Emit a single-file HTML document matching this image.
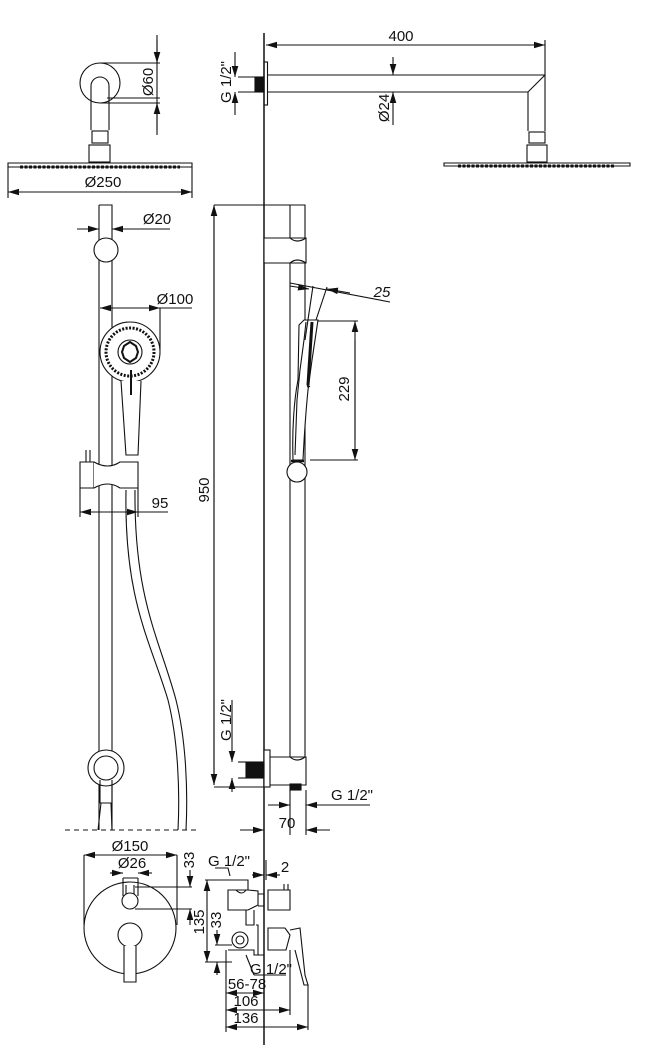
<!DOCTYPE html>
<html><head><meta charset="utf-8"><style>
html,body{margin:0;padding:0;background:#fff;}
svg{display:block;}
text{font-family:"Liberation Sans",sans-serif;font-size:15px;fill:#111;}
</style></head><body>
<svg width="650" height="1060" viewBox="0 0 650 1060" xmlns="http://www.w3.org/2000/svg">
<defs>
<marker id="a" viewBox="0 0 10 6" refX="10" refY="3" markerWidth="10" markerHeight="6" orient="auto-start-reverse"><path d="M0,0 L10,3 L0,6 z" fill="#111"/></marker>
</defs>
<g stroke="#111" fill="none" stroke-width="1.1">

<circle cx="100" cy="83" r="20"/>
<path d="M91,130 L91,86 A9,9 0 0 1 109,86 L109,130"/>
<path d="M107,98 L160,98 M100,63 L160,63 M100,103 L160,103"/>
<line x1="157" y1="35" x2="157" y2="135" />
<line x1="157" y1="40" x2="157" y2="63" marker-end="url(#a)"/>
<line x1="157" y1="130" x2="157" y2="103" marker-end="url(#a)"/>
<rect x="92" y="131" width="16" height="12"/>
<rect x="89" y="145" width="21" height="17"/>
<path d="M8,163 L192,163 L192,167 L8,167 z" fill="#fff"/>
<path d="M20,167 L180,167" stroke-width="3" stroke-dasharray="3,1.5"/>
<line x1="8" y1="167" x2="8" y2="198"/><line x1="192" y1="167" x2="192" y2="198"/>
<line x1="8" y1="192" x2="192" y2="192" marker-start="url(#a)" marker-end="url(#a)"/>

<path d="M99,205 L112,205 L112,830 M99,205 L99,830"/>
<circle cx="106" cy="250" r="12" fill="#fff"/>
<line x1="77" y1="229" x2="99" y2="229" marker-end="url(#a)"/>
<line x1="170" y1="229" x2="112" y2="229" marker-end="url(#a)"/>
<line x1="100" y1="308" x2="160" y2="308" marker-start="url(#a)" marker-end="url(#a)"/>
<line x1="160" y1="308" x2="192" y2="308"/>
<line x1="160" y1="308" x2="160" y2="350"/>
<circle cx="130" cy="352" r="30" fill="#fff"/>
<circle cx="130" cy="352" r="24" stroke-width="3" stroke-dasharray="2,1.5"/>
<circle cx="130" cy="352" r="12"/>
<path d="M124,346 L130,342 L136,346 L138,352 L136,358 L130,362 L124,358 L122,352 z" stroke-width="2"/>
<path d="M121,381 L126,455 L138,455 L141,381" fill="#fff"/>
<line x1="131" y1="370" x2="131" y2="395" stroke-width="2"/>
<path d="M80,462 L94,462 L94,488 L80,488 z"/>
<line x1="86" y1="450" x2="86" y2="462"/><line x1="90" y1="450" x2="90" y2="462"/>
<path d="M94,462 Q108,470 120,462 L138,462 L138,488 L120,488 Q108,480 94,488" fill="#fff"/>
<line x1="80" y1="488" x2="80" y2="517"/><line x1="138" y1="488" x2="138" y2="517"/>
<line x1="80" y1="512" x2="138" y2="512" marker-start="url(#a)" marker-end="url(#a)"/>
<line x1="138" y1="512" x2="168" y2="512"/>
<path d="M126,490 C124,600 150,640 168,700 C178,740 180,790 178,830"/>
<path d="M135,490 C134,600 160,640 176,700 C186,740 188,790 186,830"/>
<circle cx="106" cy="768" r="18" fill="#fff"/>
<circle cx="106" cy="768" r="12"/>
<path d="M100,780 L100,803 L112,803 L112,780"/>
<path d="M101,803 L98,830 M111,803 L112,830"/>
<line x1="65" y1="830" x2="197" y2="830" stroke-dasharray="5,4"/>

<line x1="264" y1="33" x2="264" y2="1045" stroke-width="1.5"/>

<line x1="266" y1="45" x2="545" y2="45" marker-start="url(#a)" marker-end="url(#a)"/>
<line x1="545" y1="40" x2="545" y2="75"/>
<rect x="264" y="62" width="3.5" height="43"/>
<rect x="255" y="77" width="9" height="15" fill="#111"/>
<line x1="238" y1="77" x2="255" y2="77"/><line x1="238" y1="92" x2="255" y2="92"/>
<line x1="235" y1="52" x2="235" y2="77" marker-end="url(#a)"/>
<line x1="235" y1="115" x2="235" y2="92" marker-end="url(#a)"/>
<path d="M267,75 L545,75 L545,131 M267,92 L528,92 L545,75 M528,92 L528,131"/>
<line x1="393" y1="57" x2="393" y2="75" marker-end="url(#a)"/>
<line x1="393" y1="125" x2="393" y2="92" marker-end="url(#a)"/>
<rect x="529" y="132" width="16" height="11"/>
<rect x="527" y="145" width="20" height="17"/>
<path d="M444,163 L630,163 L630,166 L444,166 z" fill="#fff"/>
<path d="M458,166 L615,166" stroke-width="3" stroke-dasharray="3,1.5"/>

<line x1="214" y1="205" x2="290" y2="205"/>
<line x1="214" y1="785" x2="214" y2="205" marker-end="url(#a)"/>
<line x1="214" y1="207" x2="214" y2="785" marker-end="url(#a)"/>
<path d="M290,205 L305,205 L305,757 M290,205 L290,757"/>
<path d="M264,238 L306,238 L306,263 L264,263 z" fill="#fff"/>
<path d="M290,238 Q297,244 306,238 M290,263 Q297,257 306,263"/>
<path d="M299,325 L304,320 L318,320 L312,360 L308,390 C306,410 304,440 303,460 L293,460 C292,430 294,400 298,380 z" fill="#fff"/>
<path d="M306,322 L304,340 L300,370 L297,400 L295,455" />
<path d="M312,322 L308,385" stroke-width="3"/>
<path d="M308,380 Q306,390 310,386"/>
<circle cx="297" cy="472" r="10" fill="#fff"/>
<line x1="291" y1="461" x2="304" y2="461" stroke-width="2.5"/>
<line x1="290" y1="283" x2="390" y2="302"/>
<line x1="290" y1="286" x2="309" y2="289" marker-end="url(#a)"/>
<line x1="350" y1="293" x2="327" y2="289" marker-end="url(#a)"/>
<line x1="305" y1="340" x2="313" y2="286"/><line x1="316" y1="320" x2="327" y2="287"/>
<line x1="318" y1="321" x2="358" y2="321"/><line x1="310" y1="460" x2="358" y2="460"/>
<line x1="355" y1="440" x2="355" y2="321" marker-end="url(#a)"/>
<line x1="355" y1="340" x2="355" y2="460" marker-end="url(#a)"/>
<rect x="264" y="750" width="6" height="37" fill="#fff"/>
<rect x="246" y="762" width="18" height="16" fill="#111"/>
<line x1="238" y1="762" x2="246" y2="762"/><line x1="238" y1="778" x2="246" y2="778"/>
<path d="M270,757 L306,757 L306,785 L270,785"/>
<path d="M290,757 Q297,763 305,757"/>
<rect x="290" y="784" width="11" height="6" fill="#111"/>
<line x1="232" y1="700" x2="232" y2="762" marker-end="url(#a)"/>
<line x1="232" y1="792" x2="232" y2="778" marker-end="url(#a)"/>
<line x1="214" y1="787" x2="264" y2="787"/>
<line x1="290" y1="790" x2="290" y2="835"/><line x1="306" y1="790" x2="306" y2="835"/>
<line x1="268" y1="805" x2="290" y2="805" marker-end="url(#a)"/>
<line x1="370" y1="805" x2="306" y2="805" marker-end="url(#a)"/>
<line x1="240" y1="830" x2="264" y2="830" marker-end="url(#a)"/>
<line x1="330" y1="830" x2="306" y2="830" marker-end="url(#a)"/>

<circle cx="130" cy="928" r="46"/>
<line x1="84" y1="855" x2="84" y2="925"/><line x1="177" y1="855" x2="177" y2="925"/>
<line x1="84" y1="855" x2="177" y2="855" marker-start="url(#a)" marker-end="url(#a)"/>
<line x1="110" y1="873" x2="123" y2="873" marker-end="url(#a)"/>
<line x1="152" y1="873" x2="138" y2="873" marker-end="url(#a)"/>
<path d="M123,878 L123,896 M138,878 L138,896 M123,878 L138,878"/>
<path d="M126,885 L126,895 M134,885 L134,895"/>
<circle cx="130" cy="901" r="8" fill="#fff"/>
<circle cx="130" cy="935" r="12" fill="#fff"/>
<path d="M124,946 L124,982 L136,982 L136,946" fill="#fff"/>
<line x1="135" y1="887" x2="192" y2="887"/><line x1="135" y1="909" x2="192" y2="909"/>
<line x1="190" y1="870" x2="190" y2="887" marker-end="url(#a)"/>
<line x1="190" y1="925" x2="190" y2="909" marker-end="url(#a)"/>

<line x1="205" y1="880" x2="232" y2="880"/><line x1="205" y1="962" x2="232" y2="962"/>
<line x1="207" y1="880" x2="207" y2="962" marker-start="url(#a)" marker-end="url(#a)"/>
<line x1="215" y1="945" x2="232" y2="945"/>
<line x1="217" y1="930" x2="217" y2="945" marker-end="url(#a)"/>
<line x1="217" y1="975" x2="217" y2="962" marker-end="url(#a)"/>
<path d="M232,880 L248,880 L248,890 L228,890 L228,910 L248,910 L258,905 L258,891 L248,890" fill="#fff"/>
<path d="M236,890 Q242,896 246,890"/>
<path d="M258,894 L264,894 L264,906 L258,906"/>
<path d="M268,890 L290,890 L290,910 L268,910 z"/><line x1="284" y1="884" x2="284" y2="890"/><line x1="288" y1="884" x2="288" y2="890"/>
<path d="M246,910 L246,925 L254,925 L254,910"/>
<path d="M256,925 L258,925 L258,955 L264,955"/>
<circle cx="240" cy="940" r="8" fill="#fff"/><circle cx="240" cy="940" r="4"/>
<path d="M228,950 L254,950 L254,955 L264,955"/>
<path d="M268,928 L285,928 L290,935 L286,950 L268,950 z"/>
<path d="M290,930 L300,928 L305,975 L308,985 L304,985 L295,950" fill="#fff"/>
<path d="M226,950 L226,1032"/>
<line x1="266" y1="860" x2="266" y2="880"/>
<path d="M215,868 L228,868 L230,876"/>
<line x1="252" y1="875" x2="264" y2="875" marker-end="url(#a)"/>
<line x1="280" y1="875" x2="266" y2="875" marker-end="url(#a)"/>
<line x1="246" y1="955" x2="254" y2="975"/><line x1="254" y1="975" x2="286" y2="975"/>
<line x1="290" y1="950" x2="290" y2="1015"/><line x1="308" y1="985" x2="308" y2="1030"/>
<line x1="226" y1="993" x2="264" y2="993" marker-start="url(#a)" marker-end="url(#a)"/>
<line x1="226" y1="1010" x2="290" y2="1010" marker-start="url(#a)" marker-end="url(#a)"/>
<line x1="226" y1="1027" x2="308" y2="1027" marker-start="url(#a)" marker-end="url(#a)"/>
</g>

<text x="103" y="187" text-anchor="middle">Ø250</text>
<text transform="translate(153,82) rotate(-90)" text-anchor="middle">Ø60</text>
<text x="157" y="224" text-anchor="middle">Ø20</text>
<text x="175" y="304" text-anchor="middle">Ø100</text>
<text x="160" y="508" text-anchor="middle">95</text>
<text x="401" y="41" text-anchor="middle">400</text>
<text transform="translate(231,82) rotate(-90)" text-anchor="middle">G 1/2"</text>
<text transform="translate(389,108) rotate(-90)" text-anchor="middle">Ø24</text>
<text x="382" y="297" text-anchor="middle" font-style="italic">25</text>
<text transform="translate(349,389) rotate(-90)" text-anchor="middle">229</text>
<text transform="translate(209,490) rotate(-90)" text-anchor="middle">950</text>
<text transform="translate(231,720) rotate(-90)" text-anchor="middle">G 1/2"</text>
<text x="352" y="800" text-anchor="middle">G 1/2"</text>
<text x="287" y="828" text-anchor="middle">70</text>
<text x="130" y="851" text-anchor="middle">Ø150</text>
<text x="132" y="868" text-anchor="middle">Ø26</text>
<text transform="translate(194,860) rotate(-90)" text-anchor="middle">33</text>
<text transform="translate(204,922) rotate(-90)" text-anchor="middle">135</text>
<text transform="translate(221,920) rotate(-90)" text-anchor="middle">33</text>
<text x="229" y="866" text-anchor="middle">G 1/2"</text>
<text x="285" y="872" text-anchor="middle">2</text>
<text x="271" y="974" text-anchor="middle">G 1/2"</text>
<text x="247" y="989" text-anchor="middle">56-78</text>
<text x="246" y="1006" text-anchor="middle">106</text>
<text x="246" y="1023" text-anchor="middle">136</text>
</svg>
</body></html>
